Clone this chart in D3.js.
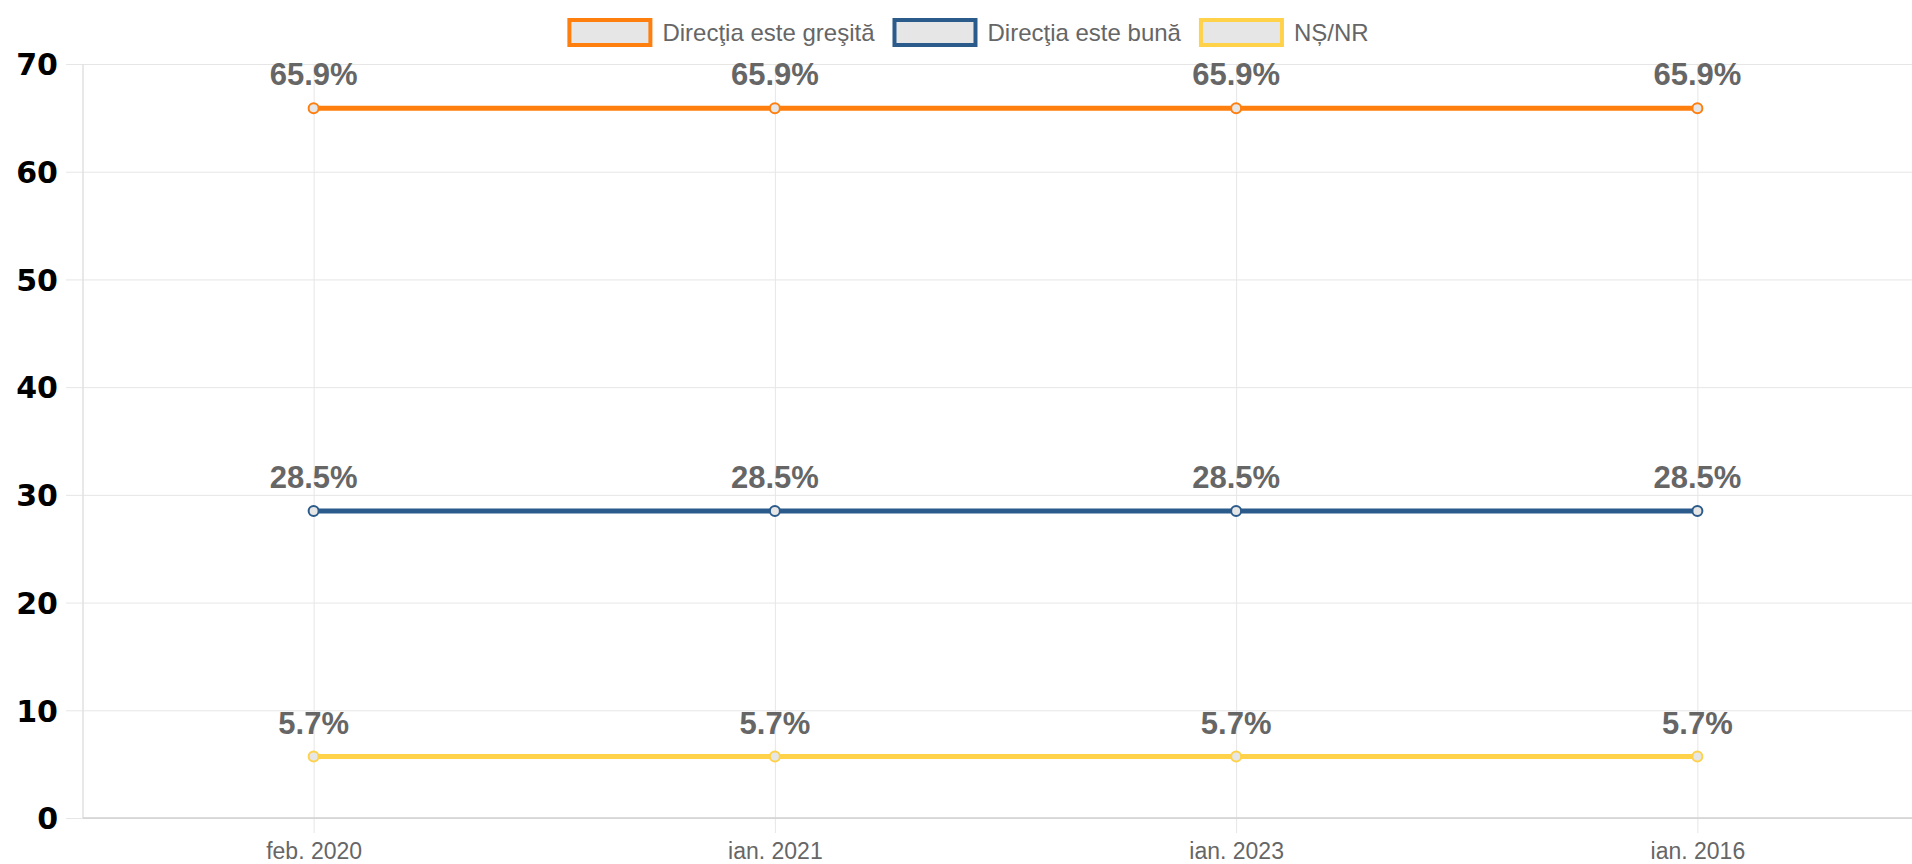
<!DOCTYPE html>
<html>
<head>
<meta charset="utf-8">
<script src="https://cdn.jsdelivr.net/npm/d3@7"></script>
<style>
  body { margin: 0; background: #fff; }
  #chart text { font-family: "Liberation Sans", Arial, sans-serif; }
  #chart .y-axis text { font-family: "DejaVu Sans", sans-serif; font-weight: bold; }
</style>
</head>
<body>
<div id="chart"></div>
<script>
const width = 1912;
const height = 864;

// data
const categories = ["feb. 2020", "ian. 2021", "ian. 2023", "ian. 2016"];
const seriesNames = ["Direcţia este greşită", "Direcţia este bună", "NȘ/NR"];
const greșită = [65.9, 65.9, 65.9, 65.9];
const bună = [28.5, 28.5, 28.5, 28.5];
const nsnr = [5.7, 5.7, 5.7, 5.7];
const seriesColors = ["#ff7f0e", "#2b5b8b", "#ffd24a"];
const yTicks = [0, 10, 20, 30, 40, 50, 60, 70];

const series = [greșită, bună, nsnr].map((vals, i) => ({
  name: seriesNames[i],
  color: seriesColors[i],
  values: vals
}));

const plot = { left: 83, right: 1928, top: 64, bottom: 818 };

const svg = d3.select("#chart")
  .append("svg")
  .attr("width", width)
  .attr("height", height);

const x = d3.scalePoint()
  .domain(categories)
  .range([plot.left, plot.right])
  .padding(0.5);

const y = d3.scaleLinear()
  .domain([0, 70])
  .range([plot.bottom, plot.top]);

// y axis + horizontal grid
const yAxis = svg.append("g")
  .attr("class", "y-axis")
  .attr("transform", "translate(66,0)")
  .call(d3.axisLeft(y).tickValues(yTicks).tickSize(-(plot.right - 66)).tickPadding(8));
yAxis.select(".domain").remove();
yAxis.selectAll("line").attr("stroke", "#e6e6e6");
yAxis.selectAll("text")
  .attr("fill", "#000")
  .style("font-size", "30px")
  .attr("dy", "0.36em");

// x axis + vertical grid
const xAxis = svg.append("g")
  .attr("class", "x-axis")
  .attr("transform", "translate(0,833)")
  .call(d3.axisBottom(x).tickSize(-(833 - plot.top)).tickPadding(10));
xAxis.select(".domain").remove();
xAxis.selectAll("line").attr("stroke", "#e6e6e6");
xAxis.selectAll("text")
  .attr("fill", "#666")
  .style("font-size", "23px");

// axis lines
svg.append("line")
  .attr("x1", plot.left).attr("x2", plot.left)
  .attr("y1", plot.top).attr("y2", plot.bottom)
  .attr("stroke", "#e0e0e0").attr("stroke-width", 1.5);
svg.append("line")
  .attr("x1", plot.left).attr("x2", plot.right)
  .attr("y1", plot.bottom).attr("y2", plot.bottom)
  .attr("stroke", "#d0d0d0").attr("stroke-width", 1.5);

const line = d3.line()
  .x((d, i) => x(categories[i]))
  .y(d => y(d));

const g = svg.selectAll(".series")
  .data(series)
  .enter().append("g")
  .attr("class", "series");

g.append("path")
  .attr("d", d => line(d.values))
  .attr("fill", "none")
  .attr("stroke", d => d.color)
  .attr("stroke-width", 5);

g.selectAll("circle")
  .data(d => d.values.map((v, i) => ({ v: v, i: i, color: d.color })))
  .enter().append("circle")
  .attr("cx", d => x(categories[d.i]))
  .attr("cy", d => y(d.v))
  .attr("r", 5)
  .attr("fill", "#e6e6e6")
  .attr("stroke", d => d.color)
  .attr("stroke-width", 2);

g.selectAll(".label")
  .data(d => d.values.map((v, i) => ({ v: v, i: i })))
  .enter().append("text")
  .attr("class", "label")
  .attr("x", d => x(categories[d.i]))
  .attr("y", d => y(d.v) - 23)
  .attr("text-anchor", "middle")
  .attr("fill", "#666")
  .style("font-size", "31px")
  .style("font-weight", "bold")
  .text(d => d.v.toFixed(1) + "%");

// legend
const legend = svg.append("g").attr("class", "legend");
let lx = 0;
series.forEach(s => {
  const item = legend.append("g").attr("transform", "translate(" + lx + ",0)");
  item.append("rect")
    .attr("x", 2).attr("y", 20)
    .attr("width", 81).attr("height", 25)
    .attr("fill", "#e6e6e6")
    .attr("stroke", s.color)
    .attr("stroke-width", 4);
  const t = item.append("text")
    .attr("x", 95)
    .attr("y", 33)
    .attr("dy", "0.35em")
    .attr("fill", "#666")
    .style("font-size", "24px")
    .text(s.name);
  lx += 95 + t.node().getComputedTextLength() + 18;
});
const legendW = lx - 18;
legend.attr("transform", "translate(" + (968 - legendW / 2) + ",0)");
</script>
</body>
</html>
